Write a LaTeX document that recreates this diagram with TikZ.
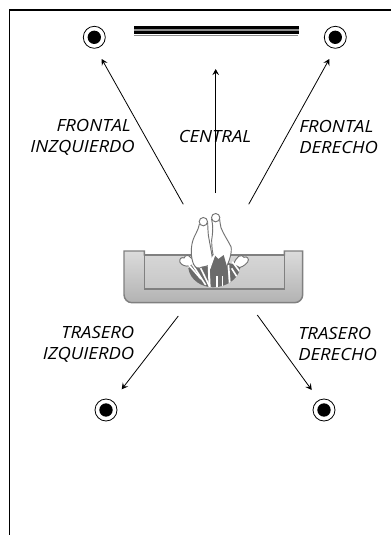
\documentclass[tikz,border=0pt]{standalone}
\usepackage{fontspec}
\setmainfont[FakeStretch=1.1]{Open Sans}
\usetikzlibrary{arrows.meta}
\definecolor{sofaline}{gray}{0.5}
\definecolor{personline}{gray}{0.45}
\definecolor{persondark}{gray}{0.42}
\tikzset{
  x=0.75pt,y=-0.75pt,
  frameline/.style={black,line width=0.9pt},
  speaker/.style={circle,draw=black,line width=0.6pt,fill=white,minimum size=16.5pt,inner sep=0pt,
    path picture={\fill[black] (path picture bounding box.center) circle (5pt);}},
  ray/.style={black,line width=0.6pt,-{Stealth[length=4.6pt,width=5pt,inset=1.8pt]}},
  label/.style={font=\itshape\fontsize{12.6pt}{15.8pt}\selectfont,text=black,inner sep=0pt},
  sofabody/.style={draw=sofaline,line width=1.1pt,top color=black!14,bottom color=black!30},
  sofaseat/.style={draw=sofaline,line width=1.1pt,top color=black!16,bottom color=black!22},
  limb/.style={draw=personline,line width=0.7pt,fill=white},
  stripe/.style={white,line width=1.2pt},
}
\begin{document}
\begin{tikzpicture}
\useasboundingbox (0,0) rectangle (391,535);
\fill[white] (0,0) rectangle (391,535);
% frame
\coordinate (frameA) at (391,10);
\coordinate (frameB) at (9.5,10);
\coordinate (frameC) at (9.5,535);
\draw[frameline] (frameA) -- (frameB) -- (frameC);
% screen
\fill[black] (133.5,26) rectangle (298.5,29.3);
\fill[black] (133.5,31) rectangle (298.5,33.8);
\fill[black!45] (133.5,29.3) rectangle (298.5,31);
\fill[black!45] (134,34.6) rectangle (298,35.6);
% speakers
\node[speaker] (fl) at (94.3,37.3) {};
\node[speaker] (fr) at (335.3,37.3) {};
\node[speaker] (rl) at (106,410) {};
\node[speaker] (rr) at (324,410) {};
% arrow coordinates
\coordinate (flA) at (183.3,204.3); \coordinate (flB) at (101.7,59);
\coordinate (cA) at (215.7,193);    \coordinate (cB) at (215.7,69);
\coordinate (frA) at (248.7,204.3); \coordinate (frB) at (329.3,59);
\coordinate (rlA) at (178.3,316);   \coordinate (rlB) at (121.7,389.3);
\coordinate (rrA) at (257.3,315);   \coordinate (rrB) at (311.7,390);
\draw[ray] (flA) -- (flB);
\draw[ray] (cA) -- (cB);
\draw[ray] (frA) -- (frB);
\draw[ray] (rlA) -- (rlB);
\draw[ray] (rrA) -- (rrB);
% labels
\node[label,align=right,anchor=east] (lfl) at (135,137) {FRONTAL\hspace*{3pt}\\INZQUIERDO};
\node[label] (lc) at (215,136) {CENTRAL};
\node[label,align=left,anchor=west] (lfr) at (299,137) {FRONTAL\\DERECHO};
\node[label,align=right,anchor=east] (lrl) at (134.5,344) {TRASERO\\IZQUIERDO};
\node[label,align=left,anchor=west] (lrr) at (298,344) {TRASERO\\DERECHO};
% sofa
\path[sofabody] (124,251) -- (144.3,251) -- (144.3,255) -- (284.3,255) -- (284.3,251) -- (302.7,251)
  -- (302.7,294.7) arc[start angle=0,end angle=90,radius=8] -- (132,302.7)
  arc[start angle=90,end angle=180,radius=8] -- cycle;
\path[sofaseat] (144.3,255) rectangle (284.3,289);
% person (units: 3 = 1 px, origin at 175,205)
\begin{scope}[shift={(175,205)},x=0.25pt,y=-0.25pt]
  % hands
  \path[limb] (46,182) .. controls (30,186) and (20,180) .. (15,172) .. controls (11,162) and (20,155) .. (27,159)
     .. controls (31,148) and (43,150) .. (46,157) .. controls (54,162) and (62,170) .. (56,178) -- cycle;
  \path[limb] (176,178) .. controls (180,165) and (185,160) .. (191,154) .. controls (197,148) and (205,153) .. (207,157)
     .. controls (216,152) and (224,162) .. (218,171) .. controls (210,182) and (195,190) .. (185,188) -- cycle;
  % body
  \path[fill=persondark] (40,190) .. controls (45,225) and (80,247) .. (115,247)
     .. controls (150,247) and (190,225) .. (196,188) .. controls (170,165) and (70,165) .. (40,190) -- cycle;
  \begin{scope}
    \clip (40,190) .. controls (45,225) and (80,247) .. (115,247)
     .. controls (150,247) and (190,225) .. (196,188) -- (196,150) -- (40,150) -- cycle;
    \draw[stripe] (40,178) -- (78,222);
    \draw[stripe] (52,178) -- (92,240);
    \draw[stripe] (70,175) -- (104,245);
    \draw[stripe,line width=1.5pt] (101,180) -- (104,250);
    \draw[stripe] (126,250) -- (126,214);
    \draw[stripe] (142,250) -- (142,214);
    \draw[stripe,line width=1.4pt] (160,180) -- (165,245);
    \draw[stripe] (198,205) -- (172,170);
    \draw[stripe] (190,222) -- (170,190);
  \end{scope}
  % legs
  \path[limb] (73,58) .. controls (70,76) and (58,92) .. (54,105) .. controls (46,130) and (48,160) .. (56,178)
     .. controls (62,190) and (70,192) .. (82,186) .. controls (100,184) and (108,178) .. (113,168)
     .. controls (110,140) and (104,115) .. (100,90) .. controls (99,75) and (98,65) .. (98,54) -- cycle;
  \path[limb] (110,44) .. controls (116,70) and (112,90) .. (110,105) .. controls (110,125) and (112,150) .. (120,165)
     .. controls (128,175) and (140,185) .. (152,190) .. controls (162,172) and (172,142) .. (168,125)
     .. controls (158,105) and (144,85) .. (138,68) .. controls (136,60) and (135,52) .. (134,44) -- cycle;
  \path[limb] (85,50) circle[radius=12.5];
  \path[limb] (122,38) circle[radius=12.5];
  % dark centre over the legs
  \path[fill=persondark] (106,192) -- (120,152) -- (130,162) -- (146,150) -- (156,185) -- (160,212)
     -- (106,212) -- cycle;
  \path[fill=white] (98,176) -- (116,150) -- (120,152) -- (106,192) -- (100,192) -- cycle;
\end{scope}
\end{tikzpicture}
\end{document}
